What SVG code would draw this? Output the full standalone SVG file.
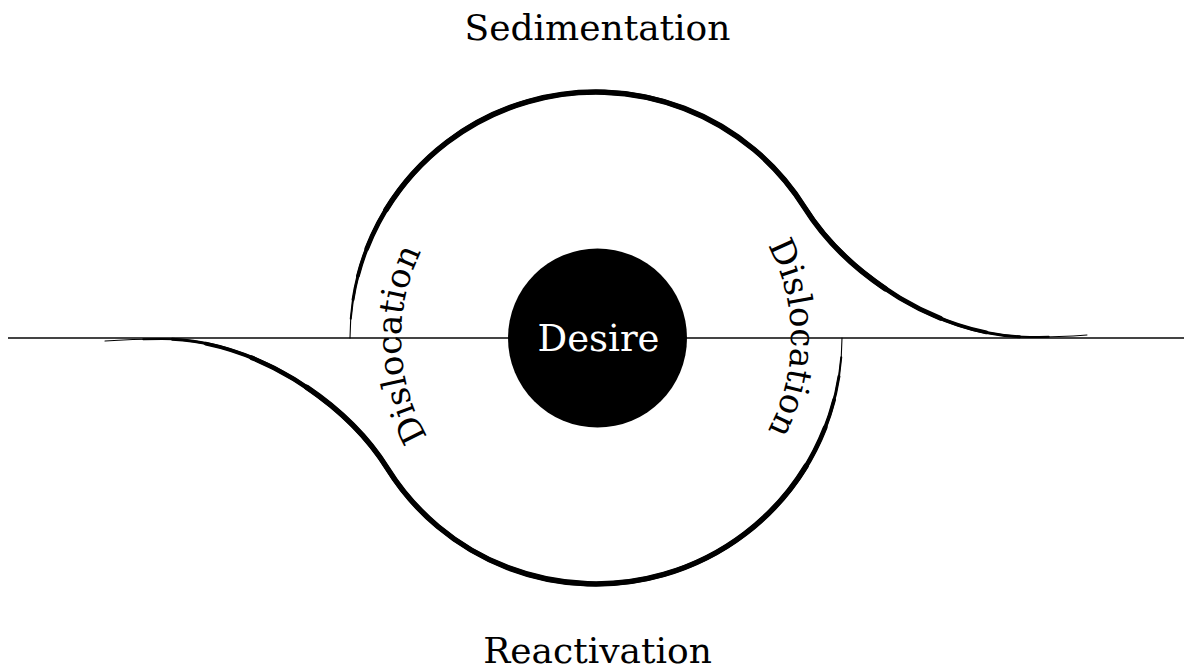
<svg xmlns="http://www.w3.org/2000/svg" width="1184" height="669" viewBox="0 0 1184 669">
<style>
.lbl{font-family:"DejaVu Serif","Liberation Serif",serif;fill:#000;text-anchor:middle}
.stroke{fill:none;stroke:#000;stroke-linecap:round;stroke-linejoin:round}
.w1{stroke-width:1.1}
.w2{stroke-width:2;stroke-dasharray:94 200;stroke-dashoffset:-2}
.w3{stroke-width:2.9;stroke-dasharray:89 200;stroke-dashoffset:-4}
.w4{stroke-width:3.8;stroke-dasharray:83 200;stroke-dashoffset:-6.5}
.w5{stroke-width:4.7;stroke-dasharray:75 200;stroke-dashoffset:-9.5}
.w6{stroke-width:5.5;stroke-dasharray:64 200;stroke-dashoffset:-14}
</style>
<defs>
<path id="arcL" d="M 504.5 510.2 A 195 195 0 0 1 492.7 172.6"/>
<path id="arcR" d="M 693.5 169.1 A 195 195 0 0 1 693.5 506.9"/>
</defs>
<rect width="1184" height="669" fill="#fff"/>
<g id="axis">
<line x1="8" y1="338" x2="1184" y2="338" stroke="#444" stroke-width="1.8"/>
</g>
<g id="connectors">
<g id="sedimentation-curve">
<path class="stroke w1" d="M 350 338 A 246 246 0 0 1 804.6 207.6 C 847 275.4 940 337 1030 337 Q 1060 337 1087 335"/>
<path class="stroke w2" pathLength="100" d="M 350 338 A 246 246 0 0 1 804.6 207.6 C 847 275.4 940 337 1030 337 Q 1060 337 1087 335"/>
<path class="stroke w3" pathLength="100" d="M 350 338 A 246 246 0 0 1 804.6 207.6 C 847 275.4 940 337 1030 337 Q 1060 337 1087 335"/>
<path class="stroke w4" pathLength="100" d="M 350 338 A 246 246 0 0 1 804.6 207.6 C 847 275.4 940 337 1030 337 Q 1060 337 1087 335"/>
<path class="stroke w5" pathLength="100" d="M 350 338 A 246 246 0 0 1 804.6 207.6 C 847 275.4 940 337 1030 337 Q 1060 337 1087 335"/>
<path class="stroke w6" pathLength="100" d="M 350 338 A 246 246 0 0 1 804.6 207.6 C 847 275.4 940 337 1030 337 Q 1060 337 1087 335"/>
</g>
<g id="reactivation-curve" transform="rotate(180 596 338)">
<path class="stroke w1" d="M 350 338 A 246 246 0 0 1 804.6 207.6 C 847 275.4 940 337 1030 337 Q 1060 337 1087 335"/>
<path class="stroke w2" pathLength="100" d="M 350 338 A 246 246 0 0 1 804.6 207.6 C 847 275.4 940 337 1030 337 Q 1060 337 1087 335"/>
<path class="stroke w3" pathLength="100" d="M 350 338 A 246 246 0 0 1 804.6 207.6 C 847 275.4 940 337 1030 337 Q 1060 337 1087 335"/>
<path class="stroke w4" pathLength="100" d="M 350 338 A 246 246 0 0 1 804.6 207.6 C 847 275.4 940 337 1030 337 Q 1060 337 1087 335"/>
<path class="stroke w5" pathLength="100" d="M 350 338 A 246 246 0 0 1 804.6 207.6 C 847 275.4 940 337 1030 337 Q 1060 337 1087 335"/>
<path class="stroke w6" pathLength="100" d="M 350 338 A 246 246 0 0 1 804.6 207.6 C 847 275.4 940 337 1030 337 Q 1060 337 1087 335"/>
</g>
</g>
<g id="desire">
<circle cx="597.5" cy="338" r="89.5" fill="#000"/>
<text class="lbl" x="598.5" y="351" font-size="37" style="fill:#fff">Desire</text>
</g>
<g id="sedimentation">
<text class="lbl" x="597.5" y="40" font-size="36">Sedimentation</text>
</g>
<g id="reactivation">
<text class="lbl" x="597.5" y="663" font-size="36">Reactivation</text>
</g>
<g id="dislocation-left">
<text class="lbl" font-size="34"><textPath href="#arcL" startOffset="50%">Dislocation</textPath></text>
</g>
<g id="dislocation-right">
<text class="lbl" font-size="34"><textPath href="#arcR" startOffset="50%">Dislocation</textPath></text>
</g>
</svg>
